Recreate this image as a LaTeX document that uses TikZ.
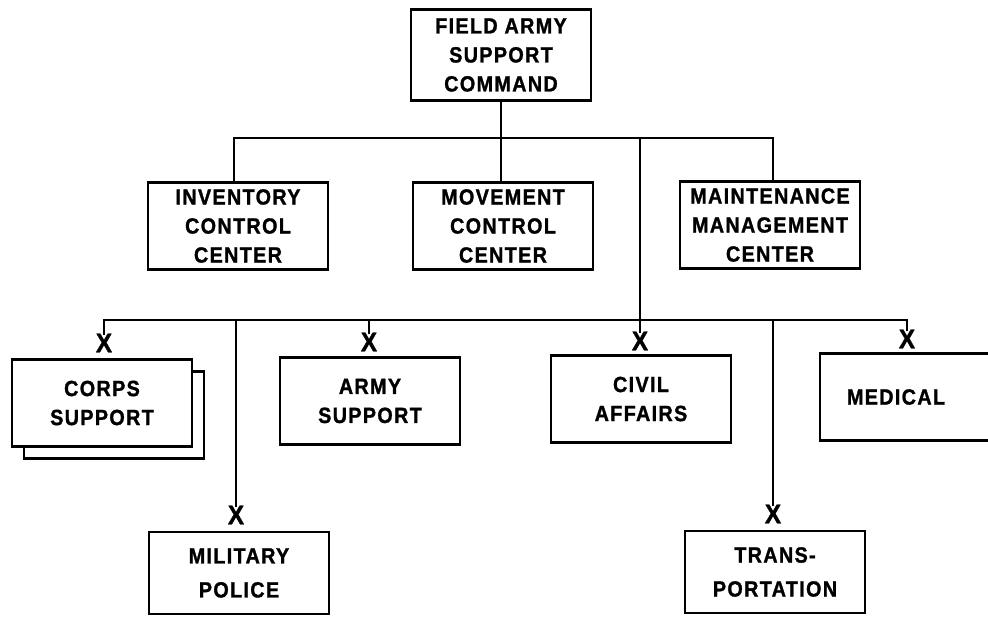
\documentclass[tikz,border=0pt]{standalone}
\usepackage{fontspec}
\setmainfont{Liberation Sans}[FakeStretch=0.9,LetterSpace=6,BoldFeatures={FakeBold=1.2}]
\usetikzlibrary{positioning}

\begin{document}
\begin{tikzpicture}[x=1pt,y=-1pt,line width=2.6pt,
    unit/.style={draw,fill=white,minimum width=180pt,minimum height=87pt,align=center,
      font=\fontsize{22}{29}\selectfont\bfseries,inner sep=0pt},
    lowunit/.style={unit,minimum height=82pt,font=\fontsize{22}{34}\selectfont\bfseries},
    xmark/.style={font=\fontsize{27}{27}\selectfont\bfseries,inner sep=0pt}]
              \useasboundingbox (0,0) rectangle (988,616);
              \clip (0,0) rectangle (988,616);

              \node[unit,minimum height=91pt] (fasc) at (501,55) {FIELD ARMY\\SUPPORT\\COMMAND};
              \node[unit] (icc) at (238,226) {INVENTORY\\CONTROL\\CENTER};
              \node[unit] (mcc) at (503,226) {MOVEMENT\\CONTROL\\CENTER};
              \node[unit] (mmc) at (770,225) {MAINTENANCE\\MANAGEMENT\\CENTER};

              \node[unit] (csb) at (114,415) {};
              \node[unit] (cs) at (102,403) {CORPS\\SUPPORT};
              \node[unit] (as) at (370,401) {ARMY\\SUPPORT};
              \node[unit] (ca) at (641,399) {CIVIL\\AFFAIRS};
              \node[unit] (med) at (910,397) {\hspace*{-28pt}MEDICAL};
              \node[lowunit] (mp) at (239,573) {MILITARY\\POLICE};
              \node[lowunit] (tr) at (775,572) {TRANS-\\PORTATION};

              \node[xmark] (xcs) at (104,343) {X};
              \node[xmark] (xas) at (369,342) {X};
              \node[xmark] (xca) at (640,341) {X};
              \node[xmark] (xmed) at (907,339) {X};
              \node[xmark] (xmp) at (236,515) {X};
              \node[xmark] (xtr) at (773,514) {X};

              \coordinate (b1) at (640,138);
              \coordinate (b2) at (640,320);

              \draw (fasc.south) -- (fasc.south |- mcc.north);
              \draw (icc.north -| 234,0) |- (b1) -| (mmc.north -| 773,0);
              \draw (b1) -- ([yshift=-3pt]xca.north);
              \draw ([yshift=-3pt]xcs.north) |- (b2) -| ([yshift=-3pt]xmed.north);
              \draw ([yshift=-3pt]xas.north) -- (xas.north |- b2);
              \draw ([yshift=-3pt]xmp.north) -- (xmp.north |- b2);
              \draw ([yshift=-3pt]xtr.north) -- (xtr.north |- b2);
            \end{tikzpicture}
\end{document}
